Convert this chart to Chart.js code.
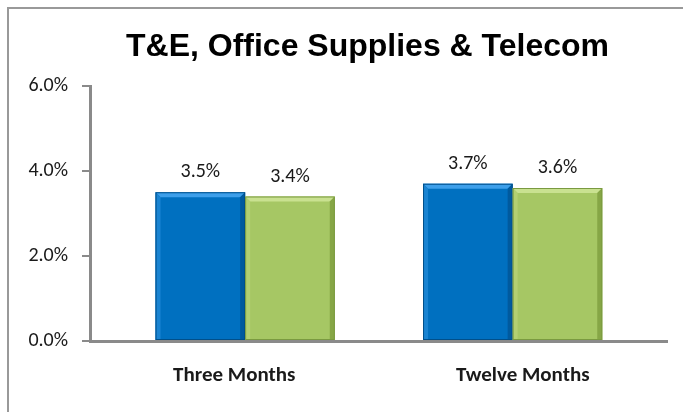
<!DOCTYPE html>
<html>
<head>
<meta charset="utf-8">
<script src="https://cdn.jsdelivr.net/npm/chart.js@4.4.1/dist/chart.umd.min.js"></script>
<style>
  html, body { margin: 0; padding: 0; background: #fff; overflow: hidden; }
  canvas { display: block; }
</style>
</head>
<body>
<canvas id="chart" width="683" height="412"></canvas>
<script>
const categories = ['Three Months', 'Twelve Months'];
const seriesA = [3.5, 3.7];
const seriesB = [3.4, 3.6];
const yTicks = [0, 2, 4, 6];

const bodyFont = "Carlito, Lato, 'Open Sans', sans-serif";

// outer chart frame (only left and top edges are in the picture)
const framePlugin = {
  id: 'frame',
  beforeDraw(chart) {
    const ctx = chart.ctx;
    ctx.save();
    ctx.strokeStyle = '#999';
    ctx.lineWidth = 2;
    ctx.beginPath();
    ctx.moveTo(8, chart.height);
    ctx.lineTo(8, 8);
    ctx.lineTo(chart.width, 8);
    ctx.stroke();
    ctx.restore();
  }
};

// bevel look for each bar, like the Office chart
const bevelPlugin = {
  id: 'bevel',
  afterDatasetsDraw(chart) {
    const ctx = chart.ctx;
    chart.data.datasets.forEach((ds, i) => {
      const meta = chart.getDatasetMeta(i);
      meta.data.forEach(bar => {
        const l = bar.x - bar.width / 2, r = bar.x + bar.width / 2;
        const t = bar.y, b = bar.base, s = 5;
        ctx.save();
        ctx.fillStyle = ds.bevelTop;
        ctx.beginPath();
        ctx.moveTo(l, t); ctx.lineTo(r, t); ctx.lineTo(r - s, t + s); ctx.lineTo(l + s, t + s);
        ctx.closePath(); ctx.fill();
        ctx.fillStyle = ds.bevelLeft;
        ctx.beginPath();
        ctx.moveTo(l, t); ctx.lineTo(l + s, t + s); ctx.lineTo(l + s, b); ctx.lineTo(l, b);
        ctx.closePath(); ctx.fill();
        ctx.fillStyle = ds.bevelRight;
        ctx.beginPath();
        ctx.moveTo(r, t); ctx.lineTo(r - s, t + s); ctx.lineTo(r - s, b); ctx.lineTo(r, b);
        ctx.closePath(); ctx.fill();
        ctx.strokeStyle = ds.edge;
        ctx.lineWidth = 1;
        ctx.strokeRect(l + 0.5, t + 0.5, bar.width - 1, b - t - 1);
        ctx.restore();
      });
    });
  }
};

// value labels above bars
const labelPlugin = {
  id: 'valueLabels',
  afterDatasetsDraw(chart) {
    const ctx = chart.ctx;
    ctx.save();
    ctx.font = '20px ' + bodyFont;
    ctx.fillStyle = '#1a1a1a';
    ctx.textAlign = 'center';
    ctx.textBaseline = 'middle';
    chart.data.datasets.forEach((ds, i) => {
      chart.getDatasetMeta(i).data.forEach((bar, j) => {
        ctx.fillText(ds.data[j].y.toFixed(1) + '%', bar.x, bar.y - 20);
      });
    });
    ctx.restore();
  }
};

// title sits a bit left of the plot centre in the original
const titleShift = {
  id: 'titleShift',
  afterLayout(chart) {
    if (chart.titleBlock) chart.titleBlock.left = 68;
  }
};

// bars sit on a hidden numeric axis so the groups can be pulled
// towards the middle like in the original
const toPoints = arr => arr.map((v, i) => ({ x: i, y: v }));

new Chart(document.getElementById('chart'), {
  type: 'bar',
  data: {
    labels: categories,
    datasets: [
      {
        data: toPoints(seriesA),
        xAxisID: 'xb',
        backgroundColor: '#0070c0',
        bevelTop: '#3d9fea', bevelLeft: '#1a84d2', bevelRight: '#005a9e', edge: '#004f8a'
      },
      {
        data: toPoints(seriesB),
        xAxisID: 'xb',
        backgroundColor: '#a6c764',
        bevelTop: '#c9e190', bevelLeft: '#b3d072', bevelRight: '#86a646', edge: '#7a9a40'
      }
    ]
  },
  options: {
    responsive: false,
    animation: false,
    events: [],
    datasets: { bar: { barPercentage: 1, categoryPercentage: 0.67 } },
    layout: { padding: { left: 0, right: 16, top: 0, bottom: 0 } },
    plugins: {
      legend: { display: false },
      tooltip: { enabled: false },
      title: {
        display: true,
        text: 'T&E, Office Supplies & Telecom',
        color: '#000',
        font: { family: "'Liberation Sans', Arial, sans-serif", size: 32, weight: 'bold' },
        padding: { top: 28, bottom: 19.6 }
      }
    },
    scales: {
      x: {
        type: 'category',
        grid: { display: false, drawTicks: false },
        border: { color: '#8a8a8a', width: 3 },
        ticks: { padding: 22, color: '#1a1a1a', font: { family: bodyFont, size: 21, weight: 'bold' } },
        afterFit(scale) { scale.height = 71; }
      },
      xb: {
        type: 'linear',
        display: false,
        offset: false,
        min: -0.58,
        max: 1.577,
        afterBuildTicks(scale) { scale.ticks = categories.map((c, i) => ({ value: i })); }
      },
      y: {
        min: 0,
        max: 6,
        afterBuildTicks(scale) { scale.ticks = yTicks.map(v => ({ value: v })); },
        grid: { drawOnChartArea: false, tickLength: 8, color: '#8a8a8a', lineWidth: 2 },
        border: { color: '#8a8a8a', width: 3 },
        ticks: {
          padding: 14,
          color: '#1a1a1a',
          font: { family: bodyFont, size: 20 },
          callback: v => v.toFixed(1) + '%'
        },
        afterFit(scale) { scale.width = 90; }
      }
    }
  },
  plugins: [framePlugin, bevelPlugin, labelPlugin, titleShift]
});
</script>
</body>
</html>
